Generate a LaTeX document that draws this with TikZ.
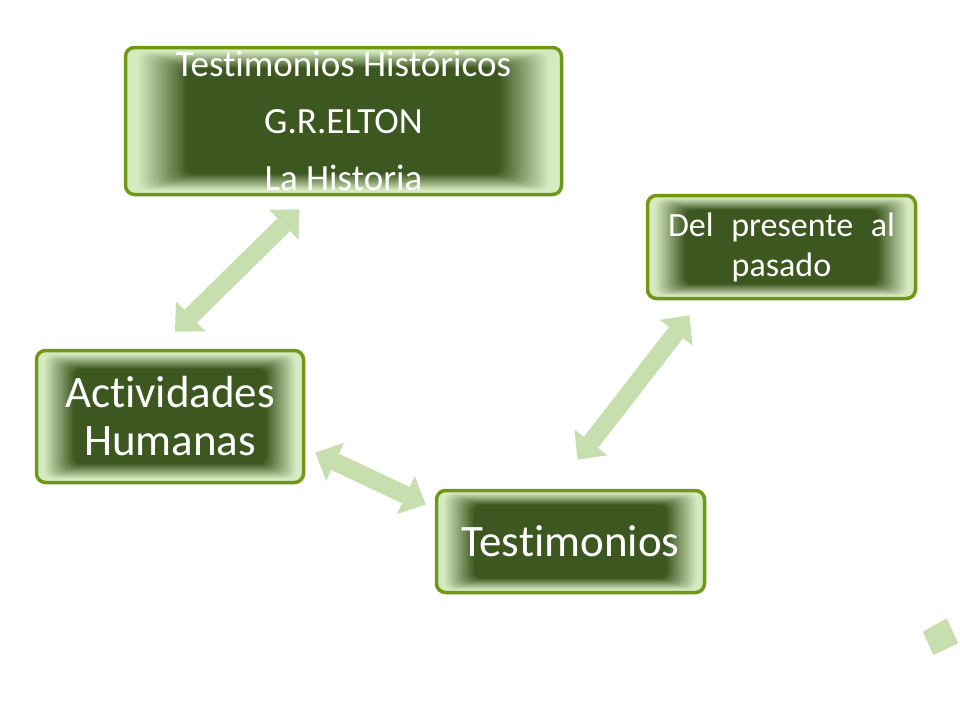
\documentclass[tikz,border=0pt]{standalone}
\usepackage{fontspec}
\setmainfont{Carlito}[Ligatures=NoCommon]
\usetikzlibrary{arrows.meta,calc,positioning}
\definecolor{histborder}{RGB}{112,152,20}
\definecolor{histlight}{RGB}{214,234,192}
\definecolor{histdark}{RGB}{61,87,32}
\definecolor{histarrow}{RGB}{199,223,174}

\begin{document}
\begin{tikzpicture}[
    x=1pt, y=-1pt,
    gbox/.style={rectangle, rounded corners=9pt, draw=histborder, line width=3.5pt, fill=histlight, text=white, align=center, inner sep=0pt,
        path picture={
            \foreach \i [evaluate=\i as \f using 0.05+\i*0.0115, evaluate=\i as \p using \i*5] in {0,...,20}
                \fill[rounded corners=8pt, histdark!\p!histlight]
                    ($(path picture bounding box.south west)!\f!(path picture bounding box.center)$)
                    rectangle
                    ($(path picture bounding box.north east)!\f!(path picture bounding box.center)$);
        }},
    dblarrow/.style={draw=histarrow, line width=18pt, {Triangle[length=22pt,width=42pt,line width=0pt]}-{Triangle[length=22pt,width=42pt,line width=0pt]}}
]
    \useasboundingbox (0,0) rectangle (960,720);

    % Boxes
    \node[gbox, minimum width=436pt, minimum height=147pt, font=\fontsize{37}{57}\selectfont] (hist) at (343.5,121) {Testimonios Históricos\\G.R.ELTON\\La Historia};
    \node[gbox, minimum width=268pt, minimum height=103pt, font=\fontsize{34}{40}\selectfont] (pres) at (781.5,247) {\makebox[227pt][s]{Del presente al}\\pasado};
    \node[gbox, minimum width=267pt, minimum height=132pt, font=\fontsize{45}{48}\selectfont] (activ) at (170,416.5) {Actividades\\Humanas};
    \node[gbox, minimum width=268pt, minimum height=102pt, font=\fontsize{45}{50}\selectfont] (testim) at (570.5,541.5) {Testimonios};

    % Arrows
    \draw[dblarrow] ([xshift=5pt,yshift=17pt]activ.north) -- ([xshift=-44pt,yshift=-13pt]hist.south);
    \draw[dblarrow] ([xshift=10pt,yshift=-36pt]activ.east) -- ([xshift=-9pt,yshift=37pt]testim.west);
    \draw[dblarrow] ([xshift=7pt,yshift=29pt]testim.north) -- ([xshift=-92pt,yshift=-15pt]pres.south);

    % Corner mark
    \fill[histarrow] (922.7,631.7) -- (946.7,618.3) -- (958.3,643.3) -- (933.3,655) -- cycle;
\end{tikzpicture}
\end{document}
